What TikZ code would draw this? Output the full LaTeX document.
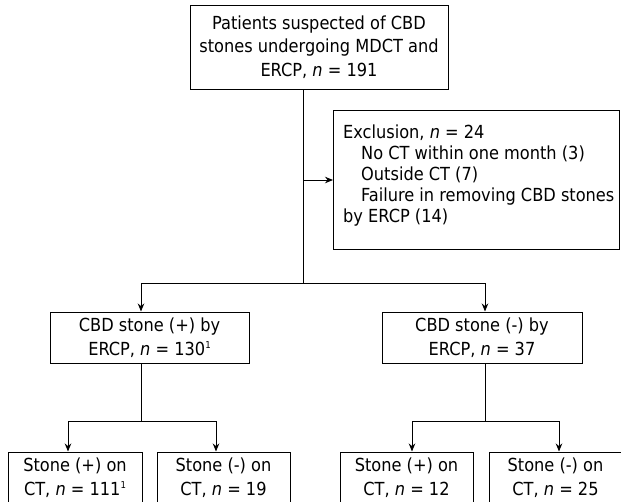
\documentclass[tikz,border=0pt]{standalone}
\usepackage{fontspec}
\setmainfont{DejaVu Sans Condensed}[ItalicFont={DejaVu Sans Condensed Oblique},BoldFont={DejaVu Sans Condensed Bold}]
\usetikzlibrary{arrows.meta,calc}
\newcommand{\supone}{\raisebox{6.5pt}{\fontsize{9.5}{9.5}\selectfont 1}}
\begin{document}
\begin{tikzpicture}[x=1pt,y=-1pt,
  every node/.style={font=\fontsize{18}{23.5}\selectfont, inner sep=0pt},
  box/.style={draw, line width=1pt, align=center},
  conn/.style={line width=1pt},
  arr/.style={conn,-{Stealth[length=8pt,width=6.5pt]}}]
\useasboundingbox (0,0) rectangle (621,501);
% boxes
\node[box, minimum width=258, minimum height=84] (top) at (319,47)
  {Patients suspected of CBD\\stones undergoing MDCT and\\ERCP, \textit{n} = 191};
\node[box, minimum width=286, minimum height=139, anchor=north west] (excl) at (333,110) {};
\node[anchor=north west, align=left, font=\fontsize{18}{21}\selectfont] (excltxt) at (343,124.5)
  {Exclusion, \textit{n} = 24\\
   \hspace*{18pt}No CT within one month (3)\\
   \hspace*{18pt}Outside CT (7)\\
   \hspace*{18pt}Failure in removing CBD stones\\
   by ERCP (14)};
\node[box, minimum width=199, minimum height=51] (cbdp) at (149.5,337.5)
  {CBD stone (+) by\\ERCP, \textit{n} = 130\supone};
\node[box, minimum width=200, minimum height=51] (cbdn) at (482,337.5)
  {CBD stone (-) by\\ERCP, \textit{n} = 37};
\node[box, minimum width=134, minimum height=51] (b1) at (75,477.5)
  {Stone (+) on\\CT, \textit{n} = 111\supone};
\node[box, minimum width=133, minimum height=51] (b2) at (223.5,477.5)
  {Stone (-) on\\CT, \textit{n} = 19};
\node[box, minimum width=133, minimum height=51] (b3) at (406.5,477.5)
  {Stone (+) on\\CT, \textit{n} = 12};
\node[box, minimum width=133, minimum height=51] (b4) at (555.5,477.5)
  {Stone (-) on\\CT, \textit{n} = 25};
% junctions
\coordinate (j1) at (303,283);
\coordinate (l1) at (141,283);
\coordinate (r1) at (485,283);
\coordinate (l2) at (141,421);
\coordinate (l2a) at (68,421);
\coordinate (l2b) at (216,421);
\coordinate (r2) at (485,421);
\coordinate (r2a) at (412,421);
\coordinate (r2b) at (559,421);
% connectors
\draw[conn] (top.south -| j1) -- (j1);
\draw[arr] (j1 |- excl.west) -- (excl.west);
\draw[conn] (l1) -- (r1);
\draw[arr] (l1) -- (l1 |- cbdp.north);
\draw[arr] (r1) -- (r1 |- cbdn.north);
\draw[conn] (cbdp.south -| l2) -- (l2);
\draw[conn] (cbdn.south -| r2) -- (r2);
\draw[conn] (l2a) -- (l2b);
\draw[conn] (r2a) -- (r2b);
\draw[arr] (l2a) -- (l2a |- b1.north);
\draw[arr] (l2b) -- (l2b |- b2.north);
\draw[arr] (r2a) -- (r2a |- b3.north);
\draw[arr] (r2b) -- (r2b |- b4.north);
\end{tikzpicture}
\end{document}
